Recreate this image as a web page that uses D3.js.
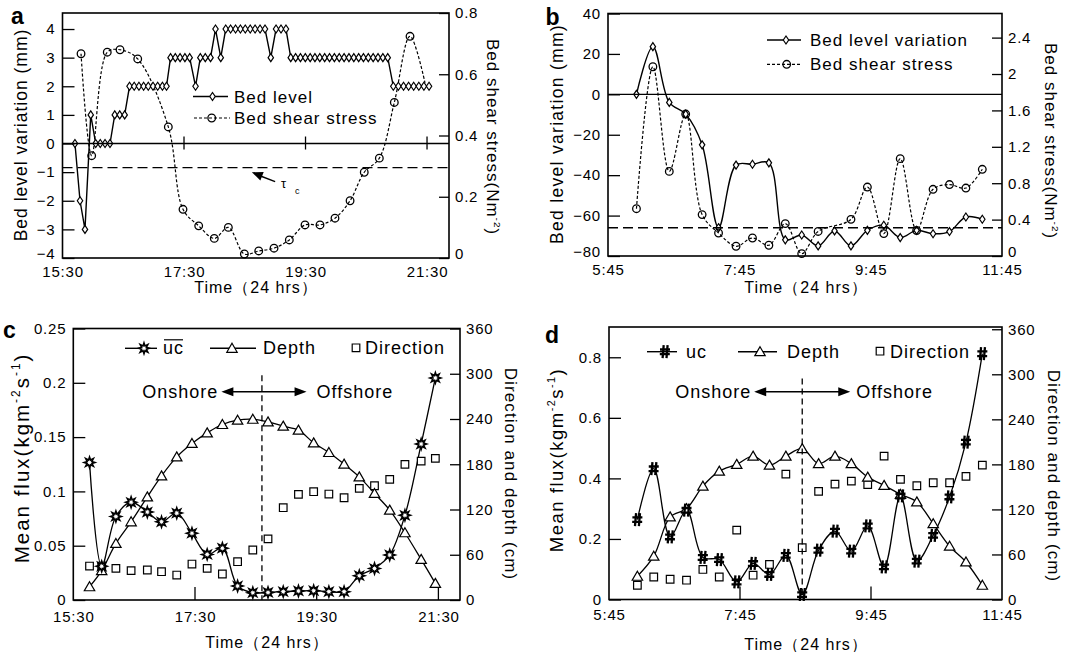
<!DOCTYPE html>
<html><head><meta charset="utf-8">
<script src="https://cdn.jsdelivr.net/npm/d3@7"></script>
<style>
body{margin:0;background:#fff}
svg{display:block}
text{fill:#000}
</style></head><body>
<svg id="chart" width="1067" height="652"></svg>
<script>
// ---------------- DATA ----------------
// Panel a : bed level (mm) and bed shear stress (N m-2); times in minutes after 15:30
const aBedMin = [12.3,17.3,22.2,27.9,32.8,37.3,42,46.9,51.6,56.5,61.4,66.2,70.8,75.5,80.1,84.7,89.4,94,98.7,102.7,
  106.7,111.4,116.1,120.9,125.6,131.4,136.1,141,146.2,151.1,156.3,161.2,166,170.9,175.7,180.5,185.4,190.2,195.1,200,
  205.7,210.9,215.8,220.7,225.4,230.2,235,239.8,244.6,249.3,254.1,258.9,263.7,268.5,273.3,278.1,282.9,287.7,292.5,297.2,
  302,306.8,311.6,316.4,321.2,326.7,331.7,336.8,341.8,346.8,351.9,356.9,362];
const aBedLevel = [0,-2,-3,1, 0,0,0,0, 1,1,1, 2,2,2,2,2,2,2,2,2, 3,3,3,3,3, 2, 3,3,3, 4, 3,
  4,4,4,4,4,4,4,4,4, 3, 4,4,4, 3,3,3,3,3,3,3,3,3,3,3,3,3,3,3,3,3,3,3,3,3, 2,2,2,2,2,2,2,2];
const aShearMin = [18.3,28.8,44.2,56.8,74.3,104.5,119,134.5,149.9,163.8,179.6,193.8,208.9,224,239.5,254.3,269.1,284,298,312.9,327.7,343.2,358];
const aShear = [0.667,0.334,0.672,0.68,0.65,0.428,0.159,0.105,0.064,0.1,0.013,0.023,0.032,0.059,0.108,0.108,0.13,0.187,0.28,0.326,0.508,0.724,0.572];
const aTauC = 0.295;

// Panels b and d share sampling times
const bdTimes = ["6:11","6:26","6:41","6:56","7:11","7:26","7:42","7:57","8:12","8:27","8:42","8:57","9:12","9:27","9:42","9:57","10:12","10:27","10:42","10:57","11:12","11:27"];
const bBedLevel = [0,23.6,-4,-9.8,-25,-66,-35,-34.6,-33.9,-72,-69.6,-75,-67.6,-75,-67.3,-64.8,-70.9,-67.3,-69,-67.9,-60.7,-61.8];
const bShear = [0.52,2.08,0.93,1.56,0.455,0.253,0.107,0.198,0.118,0.356,0.026,0.27,null,0.403,0.758,0.246,1.07,0.28,0.733,0.785,0.747,0.953];
const bTauC = 0.31;

// Panel c
const cTimes = ["15:46","15:58","16:12","16:27","16:43","16:57","17:12","17:27","17:42","17:57","18:12","18:27","18:42","18:57","19:12","19:27","19:42","19:57","20:12","20:27","20:42","20:57","21:13","21:27"];
const cUc = [0.1267,0.031,0.0769,0.09,0.081,0.072,0.08,0.0615,0.042,0.0477,0.0129,0.0067,0.007,0.0077,0.0083,0.0086,0.0077,0.0077,0.0224,0.029,0.0415,0.078,0.1436,0.2045];
const cDepth = [17.6,39,75,103.7,136.8,164.6,189.8,207.6,221.6,232.7,238.4,239.7,236.2,230.5,225.2,208.4,195.6,180.2,163.3,141.3,119.2,89.2,53.9,22.1];
const cDirection = [45,45,42,38.9,39.8,37.5,33.1,47.7,42,34.5,50.8,66.3,81,122.4,140,143.6,140.5,135.6,148,151.5,160,179.9,184.2,187.8];
const cDivide = "18:36";

// Panel d
const dUc = [0.264,0.432,0.207,0.295,0.139,0.132,0.058,0.119,0.083,0.146,0.0165,0.163,0.226,0.16,0.243,0.108,0.342,0.127,0.212,0.339,0.52,0.812];
const dDepth = [31,57.7,110,121,151,171,180,191,179,191,201,181,191,181,163,152,140,130,101,71,50,19];
const dDirection = [19,30,27,25.7,40,30,92.4,32.4,46.7,167,69,144,153.7,157.7,153,191,160,151.5,155.5,155.5,164,179];
const dDivide = "8:42";

// Tick labels
const acTickLabels = ["15:30","17:30","19:30","21:30"];
const bdTickLabels = ["5:45","7:45","9:45","11:45"];
const aLeftTicks = [-4,-3,-2,-1,0,1,2,3,4];
const aRightTicks = [0,0.2,0.4,0.6,0.8];
const bLeftTicks = [-80,-60,-40,-20,0,20,40];
const bRightTicks = [0,0.4,0.8,1.2,1.6,2,2.4];
const cLeftTicks = [0,0.05,0.1,0.15,0.2,0.25];
const dLeftTicks = [0,0.2,0.4,0.6,0.8];
const cdRightTicks = [0,60,120,180,240,300,360];

// ---------------- HELPERS ----------------
const FONT = '"Liberation Sans", Arial, Helvetica, sans-serif';
const svg = d3.select("#chart").attr("font-family", FONT);
const hm = s => { const [h, m] = s.split(":").map(Number); return h + m / 60; };

const starPath = (() => { const p = []; for (let i = 0; i < 16; i++) { const r = i % 2 ? 2.6 : 5.4; const a = Math.PI * i / 8 - Math.PI / 2; p.push([r * Math.cos(a), r * Math.sin(a)]); } return "M" + p.map(q => q[0].toFixed(2) + "," + q[1].toFixed(2)).join("L") + "Z"; })();
const PATHS = {
  diamond: "M0,-4L2.7,0L0,4L-2.7,0Z",
  tri: "M0,-5L5.2,4L-5.2,4Z",
  square: "M-3.8,-3.8H3.8V3.8H-3.8Z",
  hash: "M-1.3,-6.5L-2.4,6.5M2.6,-6.5L1.5,6.5M-5,-2.2H5M-5.2,2.4H4.8",
  star: starPath
};
function marker(g, x, y, type) {
  if (type === "circle") {
    g.append("circle").attr("cx", x).attr("cy", y).attr("r", 3.8).attr("fill", "none").attr("stroke", "#000").attr("stroke-width", 1.3);
  } else if (type === "hash") {
    g.append("path").attr("transform", `translate(${x},${y})`).attr("d", PATHS.hash).attr("fill", "none").attr("stroke", "#000").attr("stroke-width", 2.3);
  } else {
    const sw = type === "star" ? 1.6 : 1.2;
    g.append("path").attr("transform", `translate(${x},${y})`).attr("d", PATHS[type]).attr("fill", "#fff").attr("stroke", "#000").attr("stroke-width", sw);
  }
}
function styleAxis(g) {
  g.attr("font-size", 15).attr("font-family", FONT).style("letter-spacing", "0.8px");
  g.select(".domain").remove();
  g.selectAll(".tick line").attr("stroke", "#000").attr("stroke-width", 1.3);
  g.selectAll(".tick text").attr("fill", "#000");
}
function rotTitle(x, y, angle, parts, size, ls) {
  const t = svg.append("text").attr("transform", `translate(${x},${y}) rotate(${angle})`)
    .attr("text-anchor", "middle").attr("font-size", size).style("letter-spacing", ls + "px");
  let shift = 0;
  parts.forEach(([s, sup]) => {
    const want = sup ? -size * 0.42 : 0;
    const ts = t.append("tspan").attr("dy", want - shift).text(s);
    if (sup) ts.attr("font-size", size * 0.58);
    shift = want;
  });
}
function textAt(x, y, s, size, anchor, ls) {
  return svg.append("text").attr("x", x).attr("y", y).attr("font-size", size)
    .attr("text-anchor", anchor || "start").style("letter-spacing", (ls == null ? 1 : ls) + "px").text(s);
}
function hline(x1, x2, y, dash, w) {
  const l = svg.append("line").attr("x1", x1).attr("x2", x2).attr("y1", y).attr("y2", y).attr("stroke", "#000").attr("stroke-width", w || 1.3);
  if (dash) l.attr("stroke-dasharray", dash);
  return l;
}
function arrowHead(x, y, dir, len, hw) {
  svg.append("path").attr("d", `M${x},${y}L${x - dir * len},${y - hw}L${x - dir * len},${y + hw}Z`).attr("fill", "#000");
}
function frame(p) {
  svg.append("rect").attr("x", p.x0).attr("y", p.y0).attr("width", p.x1 - p.x0).attr("height", p.y1 - p.y0)
    .attr("fill", "none").attr("stroke", "#000").attr("stroke-width", 1.6);
}
// lift: raise the lowest left/right tick label a little so it clears the time labels
function axes(p, x, yL, yR, lt, lfmt, rt, rfmt, xt, xlabels, xpad, lift) {
  const gl = svg.append("g").attr("transform", `translate(${p.x0},0)`)
    .call(d3.axisLeft(yL).tickValues(lt).tickFormat(lfmt).tickSize(-12).tickPadding(7)).call(styleAxis);
  const gr = svg.append("g").attr("transform", `translate(${p.x1},0)`)
    .call(d3.axisRight(yR).tickValues(rt).tickFormat(rfmt).tickSize(-10).tickPadding(6)).call(styleAxis);
  if (lift) {
    [gl, gr].forEach(gg => gg.selectAll(".tick text").filter((d, i, n) => i === 0).attr("y", -lift));
  }
  svg.append("g").attr("transform", `translate(0,${p.y1})`)
    .call(d3.axisBottom(x).tickValues(xt).tickFormat((d, i) => xlabels[i]).tickSize(0).tickPadding(xpad)).call(styleAxis);
}
const smooth = d3.curveCatmullRom.alpha(0.5);

// ---------------- PANEL A ----------------
{
  const p = { x0: 62.5, x1: 449, y0: 13, y1: 258 };
  const x = d3.scaleLinear().domain([15.5, 15.5 + 381.7 / 60]).range([p.x0, p.x1]);
  const yL = d3.scaleLinear().domain([-4, 4.56]).range([p.y1, p.y0]);
  const yR = d3.scaleLinear().domain([0, 0.8]).range([p.y1, p.y0]);
  const xt = acTickLabels.map(hm);
  const g = svg.append("g");
  hline(p.x0, p.x1, yL(0), null, 1.4);
  hline(p.x0, p.x1, yR(aTauC), "10,5", 1.4);
  xt.slice(1).forEach(v => svg.append("line").attr("x1", x(v)).attr("x2", x(v)).attr("y1", yL(0) - 7).attr("y2", yL(0) + 6).attr("stroke", "#000").attr("stroke-width", 1.3));
  const sh = aShearMin.map((m, i) => ({ t: 15.5 + m / 60, v: aShear[i] }));
  g.append("path").datum(sh).attr("d", d3.line().x(d => x(d.t)).y(d => yR(d.v)).curve(smooth))
    .attr("fill", "none").attr("stroke", "#000").attr("stroke-width", 1.2).attr("stroke-dasharray", "3,2");
  const bl = aBedMin.map((m, i) => ({ t: 15.5 + m / 60, v: aBedLevel[i] }));
  g.append("path").datum(bl).attr("d", d3.line().x(d => x(d.t)).y(d => yL(d.v)))
    .attr("fill", "none").attr("stroke", "#000").attr("stroke-width", 1.4);
  bl.forEach(d => marker(g, x(d.t), yL(d.v), "diamond"));
  sh.slice(0, -1).forEach(d => marker(g, x(d.t), yR(d.v), "circle"));
  frame(p);
  axes(p, x, yL, yR, aLeftTicks, d3.format("d"), aRightTicks, d => String(d), xt, acTickLabels, 8, 4);
  const tx1 = x(hm("19:00")), ty1 = yL(-1.33), tx2 = x(hm("18:37")), ty2 = yL(-1.0);
  svg.append("line").attr("x1", tx1).attr("y1", ty1).attr("x2", tx2 + 8).attr("y2", ty2 + 3.6).attr("stroke", "#000").attr("stroke-width", 1.4);
  const ang = Math.atan2(ty2 - ty1, tx2 - tx1) * 180 / Math.PI;
  svg.append("path").attr("transform", `translate(${tx2},${ty2}) rotate(${ang})`).attr("d", "M0,0L-11,-4.5L-11,4.5Z").attr("fill", "#000");
  textAt(281, 188, "τ", 13, "start", 0);
  textAt(295, 194, "c", 9, "start", 0);
  hline(193, 228, 96.5, null, 1.4); marker(svg, 212.5, 96.5, "diamond");
  textAt(234, 102.5, "Bed level", 17, "start", 1);
  hline(194, 230, 118, "3,2", 1.2); marker(svg, 211.7, 118, "circle");
  textAt(234, 124, "Bed shear stress", 17, "start", 1);
  rotTitle(27, 135, -90, [["Bed level variation (mm)", false]], 17.5, 1);
  rotTitle(487, 137, 90, [["Bed shear stress(Nm", false], ["-2", true], [")", false]], 17, 1);
  textAt(256, 293, "Time（24 hrs）", 16, "middle", 1);
  svg.append("text").attr("x", 11).attr("y", 23.5).attr("font-size", 23).attr("font-weight", "bold").text("a");
}

// ---------------- PANEL B ----------------
{
  const p = { x0: 608, x1: 1002, y0: 13.5, y1: 256 };
  const x = d3.scaleLinear().domain([5.75, 11.75]).range([p.x0, p.x1]);
  const yL = d3.scaleLinear().domain([-80, 40]).range([p.y1, p.y0]);
  const yR = d3.scaleLinear().domain([0, 2.665]).range([p.y1, p.y0]);
  const xt = bdTickLabels.map(hm);
  const g = svg.append("g");
  hline(p.x0, p.x1, yL(0), null, 1.4);
  hline(p.x0, p.x1, yR(bTauC), "10,5", 1.4);
  const sh = bdTimes.map((s, i) => ({ t: hm(s), v: bShear[i] })).filter(d => d.v != null);
  g.append("path").datum(sh).attr("d", d3.line().x(d => x(d.t)).y(d => yR(d.v)).curve(smooth))
    .attr("fill", "none").attr("stroke", "#000").attr("stroke-width", 1.2).attr("stroke-dasharray", "3,2");
  const bl = bdTimes.map((s, i) => ({ t: hm(s), v: bBedLevel[i] }));
  g.append("path").datum(bl).attr("d", d3.line().x(d => x(d.t)).y(d => yL(d.v)).curve(smooth))
    .attr("fill", "none").attr("stroke", "#000").attr("stroke-width", 1.4);
  bl.forEach(d => marker(g, x(d.t), yL(d.v), "diamond"));
  sh.forEach(d => marker(g, x(d.t), yR(d.v), "circle"));
  frame(p);
  axes(p, x, yL, yR, bLeftTicks, d3.format("d"), bRightTicks, d => String(d), xt, bdTickLabels, 8, 4);
  hline(767, 801, 40, null, 1.4); marker(svg, 786, 40, "diamond");
  textAt(810, 46, "Bed level variation", 17, "start", 1);
  hline(767, 801, 64.3, "3,2", 1.2); marker(svg, 786.7, 64.3, "circle");
  textAt(810, 70.3, "Bed shear stress", 17, "start", 1);
  rotTitle(563, 134, -90, [["Bed level variation (mm)", false]], 17.5, 1.3);
  rotTitle(1045, 141, 90, [["Bed shear stress(Nm", false], ["-2", true], [")", false]], 17, 1);
  textAt(806, 293, "Time（24 hrs）", 16, "middle", 1);
  svg.append("text").attr("x", 545.5).attr("y", 25).attr("font-size", 23).attr("font-weight", "bold").text("b");
}

// ---------------- PANELS C & D (shared drawing) ----------------
function fluxPanel(o) {
  const p = o.p;
  const x = d3.scaleLinear().domain(o.xdom).range([p.x0, p.x1]);
  const yL = d3.scaleLinear().domain([0, o.ymax]).range([p.y1, p.y0]);
  const yR = d3.scaleLinear().domain([0, o.rmax]).range([p.y1, p.y0]);
  const xt = o.tickLabels.map(hm);
  const g = svg.append("g");
  const xd = x(hm(o.divide));
  svg.append("line").attr("x1", xd).attr("x2", xd).attr("y1", yL(o.divTop)).attr("y2", p.y1)
    .attr("stroke", "#000").attr("stroke-width", 1.3).attr("stroke-dasharray", "6,4");
  const ay = yL(o.arrowY), ax1 = x(hm(o.arrowL)), ax2 = x(hm(o.arrowR));
  hline(ax1 + 6, ax2 - 6, ay, null, 1.4);
  arrowHead(ax1, ay, -1, 12, 4.5);
  arrowHead(ax2, ay, 1, 12, 4.5);
  textAt(ax1 - 3, ay + 6.5, "Onshore", 18, "end", 1);
  textAt(ax2 + o.offDx, ay + 6.5, "Offshore", 18, "start", 1);
  const pts = o.times.map((s, i) => ({ t: hm(s), u: o.uc[i], dep: o.depth[i], dir: o.dir[i] }));
  g.append("path").datum(pts).attr("d", d3.line().x(d => x(d.t)).y(d => yR(d.dep)).curve(smooth))
    .attr("fill", "none").attr("stroke", "#000").attr("stroke-width", 1.3);
  g.append("path").datum(pts).attr("d", d3.line().x(d => x(d.t)).y(d => yL(d.u)).curve(smooth))
    .attr("fill", "none").attr("stroke", "#000").attr("stroke-width", 1.3);
  pts.forEach(d => marker(g, x(d.t), yR(d.dir), "square"));
  pts.forEach(d => marker(g, x(d.t), yR(d.dep), "tri"));
  pts.forEach(d => marker(g, x(d.t), yL(d.u), o.ucMarker));
  frame(p);
  xt.slice(1, 1 + o.nTicks).forEach(v => svg.append("line").attr("x1", x(v)).attr("x2", x(v)).attr("y1", p.y1).attr("y2", p.y1 - 13).attr("stroke", "#000").attr("stroke-width", 1.3));
  axes(p, x, yL, yR, o.leftTicks, d => String(d), cdRightTicks, d => String(d), xt, o.tickLabels, o.xpad, 0);
  const L = o.legend;
  hline(L.u1, L.u2, L.y, null, 1.4); marker(svg, L.um, L.y, o.ucMarker);
  const ut = textAt(L.ut, L.y + 6, "uc", 18, "start", 1);
  if (o.overline) {
    const w = ut.node().getComputedTextLength();
    hline(L.ut + 1, L.ut + w - 1, L.y - 8.5, null, 1.2);
  }
  hline(L.d1, L.d2, L.y, null, 1.4); marker(svg, L.dm, L.y, "tri");
  textAt(L.dt, L.y + 6, "Depth", 18, "start", 1);
  marker(svg, L.sq, L.y - 0.5, "square");
  textAt(L.st, L.y + 6, "Direction", 18, "start", 1);
  rotTitle(o.lt[0], o.lt[1], -90, [["Mean flux(kgm", false], ["-2", true], ["s", false], ["-1", true], [")", false]], o.lt[2], o.lt[3]);
  rotTitle(o.rt[0], o.rt[1], 90, [["Direction and depth (cm)", false]], 17, 1.1);
  textAt(o.timeX, o.timeY, "Time（24 hrs）", 16, "middle", 1);
  svg.append("text").attr("x", o.letter[0]).attr("y", o.letter[1]).attr("font-size", 23).attr("font-weight", "bold").text(o.letter[2]);
}

fluxPanel({
  p: { x0: 73.3, x1: 460, y0: 328.5, y1: 600 },
  xdom: [15.5, 15.5 + 381.3 / 60], ymax: 0.25, rmax: 360,
  tickLabels: acTickLabels, nTicks: 3, leftTicks: cLeftTicks, xpad: 11,
  times: cTimes, uc: cUc, depth: cDepth, dir: cDirection, ucMarker: "star", overline: true,
  divide: cDivide, divTop: 0.207, arrowY: 0.1918, arrowL: "17:56", arrowR: "19:20", offDx: 10,
  legend: { y: 348.3, u1: 125, u2: 157, um: 144, ut: 163, d1: 210, d2: 256, dm: 232, dt: 263, sq: 356, st: 365 },
  lt: [29, 458, 20.5, 2], rt: [505, 474], timeX: 267, timeY: 648, letter: [3, 338, "c"]
});

fluxPanel({
  p: { x0: 609, x1: 1002, y0: 327, y1: 599.5 },
  xdom: [5.75, 11.75], ymax: 0.9, rmax: 363,
  tickLabels: bdTickLabels, nTicks: 2, leftTicks: dLeftTicks, xpad: 10,
  times: bdTimes, uc: dUc, depth: dDepth, dir: dDirection, ucMarker: "hash", overline: false,
  divide: dDivide, divTop: 0.73, arrowY: 0.686, arrowL: "7:58", arrowR: "9:26", offDx: 6,
  legend: { y: 351.7, u1: 647, u2: 677, um: 665, ut: 686, d1: 738, d2: 777, dm: 760, dt: 787, sq: 880, st: 890 },
  lt: [563, 460, 18.5, 1.5], rt: [1048, 476], timeX: 806, timeY: 650, letter: [545, 343, "d"]
});
</script>
</body></html>
